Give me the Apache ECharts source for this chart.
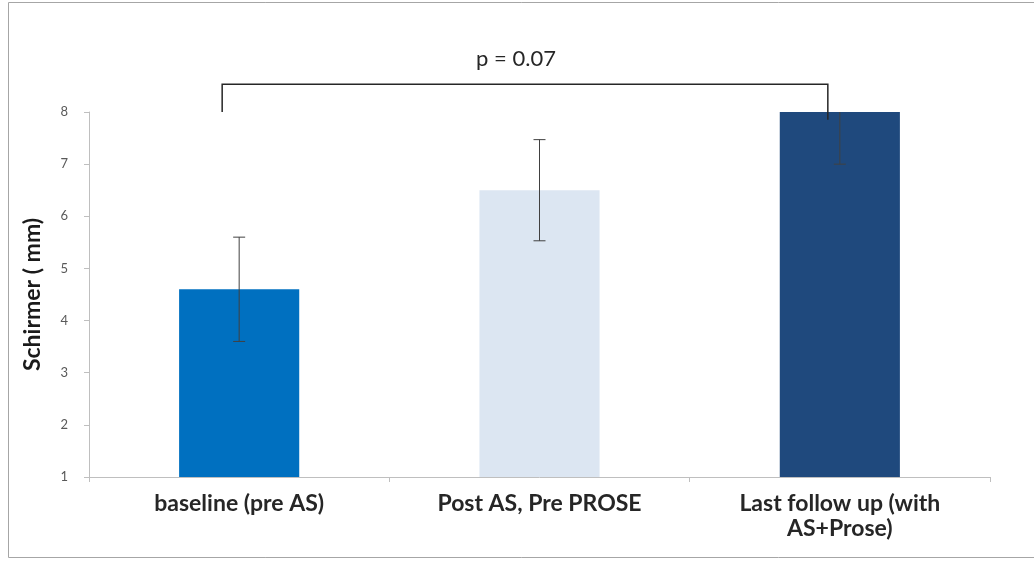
<!DOCTYPE html>
<html>
<head>
<meta charset="utf-8">
<script src="https://cdn.jsdelivr.net/npm/echarts@6/dist/echarts.min.js"></script>
<style>
  html, body { margin: 0; padding: 0; background: #fff; }
  #chart { width: 1034px; height: 563px; }
</style>
</head>
<body>
<div id="chart"></div>
<script>
// Schirmer test results at three time points
const categories = ['baseline (pre AS)', 'Post AS, Pre PROSE', 'Last follow up (with\nAS+Prose)'];
const means = [4.6, 6.5, 8.0];
const errors = [1.0, 0.97, 1.0];
const barColors = ['#0070C0', '#DCE6F2', '#1F497D'];
const yTicks = [1, 2, 3, 4, 5, 6, 7, 8];
const pLabel = 'p = 0.07';
// bracket spans first to last group
const bracketFrom = 0;
const bracketTo = 2;

const font = 'Lato, "Open Sans", sans-serif';
const yMin = yTicks[0];
const yMax = yTicks[yTicks.length - 1];

const chart = echarts.init(document.getElementById('chart'), null, { renderer: 'canvas' });

const option = {
  animation: false,
  backgroundColor: '#ffffff',
  grid: { left: 89, right: 44, top: 112, bottom: 86, outerBoundsMode: 'none', containLabel: false },
  xAxis: {
    type: 'category',
    data: categories,
    axisLine: { lineStyle: { color: '#BFBFBF', width: 1 } },
    axisTick: { show: true, length: 5, lineStyle: { color: '#BFBFBF' } },
    axisLabel: {
      color: '#262626', fontFamily: font, fontWeight: 'bold', fontSize: 23,
      margin: 14, lineHeight: 25, interval: 0
    }
  },
  yAxis: {
    type: 'value',
    min: yMin, max: yMax, interval: 1,
    name: 'Schirmer ( mm)',
    nameLocation: 'middle',
    nameGap: 45,
    nameRotate: 90,
    nameTextStyle: { color: '#1a1a1a', fontFamily: font, fontWeight: 'bold', fontSize: 23 },
    axisLine: { show: true, lineStyle: { color: '#BFBFBF', width: 1 } },
    axisTick: { show: true, length: 5, lineStyle: { color: '#BFBFBF' } },
    splitLine: { show: false },
    axisLabel: { color: '#595959', fontFamily: font, fontSize: 13, margin: 21 }
  },
  series: [
    {
      type: 'bar',
      barWidth: '40%',
      data: means.map((v, i) => ({ value: v, itemStyle: { color: barColors[i] } })),
      z: 2
    },
    {
      // error bars, clipped to the axis range
      type: 'custom',
      z: 3,
      data: means.map((v, i) => [i, v, errors[i]]),
      renderItem: function (params, api) {
        const idx = api.value(0);
        const m = api.value(1);
        const e = api.value(2);
        const hiV = Math.min(m + e, yMax);
        const loV = Math.max(m - e, yMin);
        const top = api.coord([idx, hiV]);
        const bot = api.coord([idx, loV]);
        const cap = 6;
        const children = [{
          type: 'line',
          shape: { x1: top[0], y1: top[1], x2: bot[0], y2: bot[1] },
          style: { stroke: '#404040', lineWidth: 1 }
        }, {
          type: 'line',
          shape: { x1: bot[0] - cap, y1: bot[1], x2: bot[0] + cap, y2: bot[1] },
          style: { stroke: '#404040', lineWidth: 1 }
        }];
        if (m + e <= yMax) {
          children.push({
            type: 'line',
            shape: { x1: top[0] - cap, y1: top[1], x2: top[0] + cap, y2: top[1] },
            style: { stroke: '#404040', lineWidth: 1 }
          });
        }
        return { type: 'group', children: children };
      }
    }
  ]
};

chart.setOption(option);

// significance bracket above the groups, placed via the axis scales
const xL = chart.convertToPixel({ xAxisIndex: 0 }, bracketFrom) - 17;
const xR = chart.convertToPixel({ xAxisIndex: 0 }, bracketTo) - 12;
const yTop = chart.convertToPixel({ yAxisIndex: 0 }, yMax + 0.53);
const yLeftEnd = chart.convertToPixel({ yAxisIndex: 0 }, yMax);
const yRightEnd = chart.convertToPixel({ yAxisIndex: 0 }, yMax - 0.15);

chart.setOption({
  graphic: [
    {
      // outer frame
      type: 'rect',
      shape: { x: 8.5, y: 2.5, width: 1040, height: 555 },
      style: { fill: 'none', stroke: '#A6A6A6', lineWidth: 1 },
      silent: true
    },
    {
      type: 'polyline',
      shape: { points: [[xL, yLeftEnd], [xL, yTop], [xR, yTop], [xR, yRightEnd]] },
      style: { stroke: '#262626', lineWidth: 1.5, fill: 'none' },
      z: 10
    },
    {
      type: 'text',
      x: (xL + xR) / 2 - 9,
      y: yTop - 25,
      style: {
        text: pLabel, fill: '#262626', font: '22px ' + font,
        textAlign: 'center', textVerticalAlign: 'middle'
      },
      z: 10
    }
  ]
});
</script>
</body>
</html>
